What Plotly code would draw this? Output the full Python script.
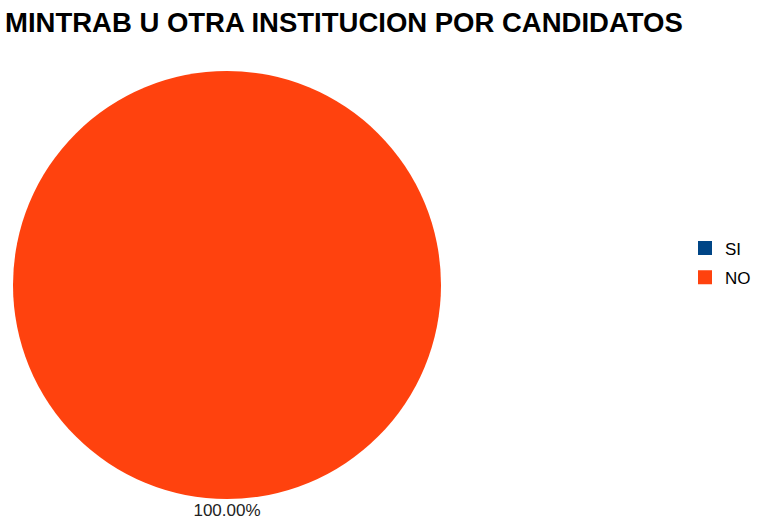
import plotly.graph_objects as go

categories = ["SI", "NO"]
values = [0, 100]
colors = ["#004586", "#ff420e"]
title = "MINTRAB U OTRA INSTITUCION POR CANDIDATOS"

W, H = 778, 531
FONT = "Liberation Sans, Arial, sans-serif"

total = sum(values)
label_text = "<br>".join(f"{v / total:.2%}" for v in values if v > 0)

fig = go.Figure()
fig.add_trace(go.Pie(
    labels=categories,
    values=values,
    marker=dict(colors=colors, line=dict(width=0)),
    sort=False,
    direction="clockwise",
    textinfo="none",
    title=dict(text=label_text, position="bottom center",
               font=dict(family=FONT, size=17, color="#222222")),
    domain=dict(x=[13 / W, 441 / W], y=[12 / H, 461 / H]),
    showlegend=False,
))
for i, (c, col) in enumerate(zip(categories, colors)):
    fig.add_trace(go.Scatter(
        x=[None], y=[None], mode="markers", name=c,
        marker=dict(symbol="square", size=14, color=col),
        legendgroup=f"g{i}", showlegend=True,
    ))
fig.update_xaxes(visible=False)
fig.update_yaxes(visible=False)
fig.update_layout(
    width=W, height=H,
    margin=dict(l=0, r=0, t=0, b=0),
    paper_bgcolor="white",
    plot_bgcolor="white",
    title=dict(text="<b>" + title + "</b>", x=5 / W, xanchor="left", y=1 - 22 / H, yanchor="middle",
               font=dict(family=FONT, size=27.5, color="#000000")),
    legend=dict(x=685 / W, xanchor="left", y=1 - 263 / H, yanchor="middle",
                font=dict(family=FONT, size=17, color="#000000"),
                itemwidth=30, tracegroupgap=4, bgcolor="rgba(0,0,0,0)"),
)
fig.write_html("out.html", config={"displayModeBar": False},
               post_script="document.body.style.margin='0';")
